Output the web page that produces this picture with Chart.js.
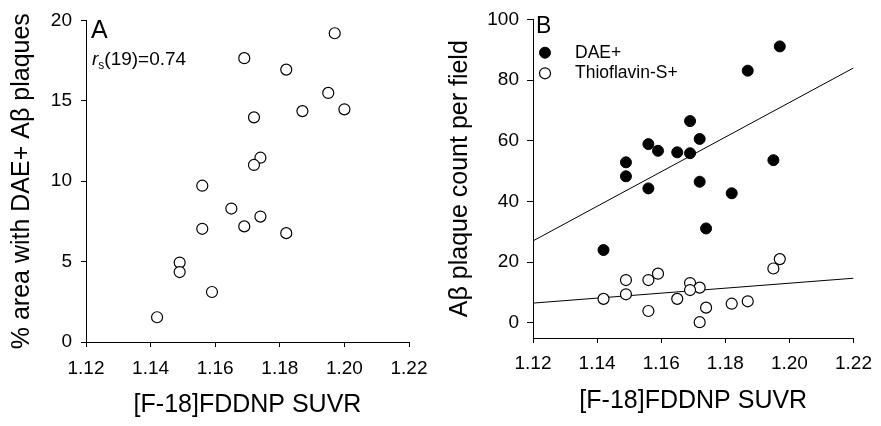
<!DOCTYPE html>
<html><head><meta charset="utf-8">
<script src="https://cdn.jsdelivr.net/npm/chart.js@4"></script>
<style>
html,body{margin:0;padding:0;background:#fff;width:881px;height:426px;overflow:hidden}
#ca{position:absolute;left:0;top:0}
#cb{position:absolute;left:440px;top:0}
</style></head><body>
<canvas id="ca" width="440" height="426"></canvas>
<canvas id="cb" width="441" height="426"></canvas>
<script>
// ---- data ----
const xTicks = [1.12, 1.14, 1.16, 1.18, 1.20, 1.22];
const yTicksA = [0, 5, 10, 15, 20];
const yTicksB = [0, 20, 40, 60, 80, 100];

const suvrA = [1.197,1.169,1.182,1.195,1.187,1.200,1.172,1.174,1.172,1.156,1.165,1.174,1.169,1.156,1.182,1.149,1.149,1.159,1.142];
const areaA = [19.2,17.65,16.94,15.49,14.36,14.47,13.97,11.46,11.01,9.72,8.30,7.80,7.19,7.04,6.77,4.94,4.35,3.11,1.54];

const suvrDAE = [1.197,1.187,1.169,1.172,1.156,1.159,1.165,1.169,1.149,1.195,1.149,1.172,1.156,1.182,1.174,1.142];
const countDAE = [91.1,83.1,66.5,60.6,58.9,56.7,56.2,55.9,52.9,53.6,48.3,46.5,44.3,42.7,31.1,24.0];

const suvrThio = [1.197,1.195,1.159,1.149,1.156,1.169,1.172,1.169,1.149,1.142,1.165,1.182,1.187,1.174,1.156,1.172];
const countThio = [21.0,17.9,16.2,14.1,14.1,13.1,11.6,10.8,9.4,7.9,7.9,6.3,7.1,5.0,3.9,0.2];

const fitX = [1.12, 1.22];
const fitDAE = [27.0, 84.0];
const fitThio = [6.5, 14.7];

const seriesNames = ['DAE+', 'Thioflavin-S+'];
const xTitle = '[F-18]FDDNP SUVR';
const yTitleA = '% area with DAE+ A\u03B2 plaques';
const yTitleB = 'A\u03B2 plaque count per field';

// ---- styling ----
const FONT = "'Liberation Sans', Arial, sans-serif";
const pts = (xs, ys) => xs.map((x, i) => ({x: x, y: ys[i]}));

function xScale(h, pad, titlePadBottom) {
  return {
    type: 'linear', min: 1.12, max: 1.22,
    afterBuildTicks: s => { s.ticks = xTicks.map(v => ({value: v})); },
    afterFit: s => { s.height = h; },
    grid: {display: true, drawOnChartArea: false, drawTicks: true, tickLength: 5, color: '#000', lineWidth: 1},
    border: {display: true, color: '#000', width: 1},
    ticks: {color: '#000', font: {family: FONT, size: 19}, padding: pad, maxRotation: 0, autoSkip: false,
            callback: v => Number(v).toFixed(2)},
    title: {display: true, text: xTitle, color: '#000', font: {family: FONT, size: 25}, padding: {top: 0, bottom: titlePadBottom}}
  };
}
function yScale(min, max, tickArr, w, tl, pad, title, tsize, tpad) {
  return {
    type: 'linear', min: min, max: max,
    afterBuildTicks: s => { s.ticks = tickArr.map(v => ({value: v})); },
    afterFit: s => { s.width = w; },
    grid: {display: true, drawOnChartArea: false, drawTicks: true, tickLength: tl, color: '#000', lineWidth: 1},
    border: {display: true, color: '#000', width: 1},
    ticks: {color: '#000', font: {family: FONT, size: 19}, padding: pad, autoSkip: false},
    title: {display: true, text: title, color: '#000', font: {family: FONT, size: tsize}, padding: {top: tpad, bottom: 0}}
  };
}

const common = {
  responsive: false, animation: false, events: [],
  plugins: {legend: {display: false}, tooltip: {enabled: false}}
};

// Panel A
new Chart(document.getElementById('ca'), {
  type: 'scatter',
  data: {datasets: [{
    data: pts(suvrA, areaA),
    pointRadius: 5.5, pointBackgroundColor: '#fff', pointBorderColor: '#000', pointBorderWidth: 1.2
  }]},
  options: Object.assign({}, common, {
    layout: {padding: {top: 17, right: 31, left: 0, bottom: 0}},
    scales: {
      x: xScale(84, 10, 6),
      y: yScale(0, 20, yTicksA, 86, 5, 9, yTitleA, 25, 7)
    }
  }),
  plugins: [{
    id: 'labelsA',
    afterDraw(chart) {
      const c = chart.ctx;
      c.save();
      c.fillStyle = '#000';
      c.textBaseline = 'alphabetic';
      c.textAlign = 'left';
      c.font = '25px ' + FONT;
      c.fillText('A', 91, 38);
      c.font = 'italic 19px ' + FONT;
      c.fillText('r', 92, 65);
      let x = 92 + c.measureText('r').width;
      c.font = '12px ' + FONT;
      c.fillText('s', x, 69);
      x += c.measureText('s').width;
      c.font = '19px ' + FONT;
      c.fillText('(19)=0.74', x, 65);
      c.restore();
    }
  }]
});

// Panel B
new Chart(document.getElementById('cb'), {
  type: 'scatter',
  data: {datasets: [
    {data: pts(fitX, fitDAE), showLine: true, pointRadius: 0, borderColor: '#000', borderWidth: 1, order: 3},
    {data: pts(fitX, fitThio), showLine: true, pointRadius: 0, borderColor: '#000', borderWidth: 1, order: 4},
    {label: seriesNames[0], data: pts(suvrDAE, countDAE), pointRadius: 5.5,
     pointBackgroundColor: '#000', pointBorderColor: '#000', pointBorderWidth: 1, order: 1},
    {label: seriesNames[1], data: pts(suvrThio, countThio), pointRadius: 5.5,
     pointBackgroundColor: '#fff', pointBorderColor: '#000', pointBorderWidth: 1.2, order: 2}
  ]},
  options: Object.assign({}, common, {
    layout: {padding: {top: 14, right: 24, left: 0, bottom: 0}},
    scales: {
      x: xScale(88, 9, 10),
      y: yScale(-5, 100, yTicksB, 93, 6, 8, yTitleB, 25, 5)
    }
  }),
  plugins: [{
    id: 'labelsB',
    afterDraw(chart) {
      const c = chart.ctx;
      c.save();
      c.fillStyle = '#000';
      c.strokeStyle = '#000';
      c.textAlign = 'left';
      c.textBaseline = 'alphabetic';
      c.font = '23px ' + FONT;
      c.fillText('B', 96, 33);
      const ds = chart.data.datasets;
      const rows = [[2, 52.7], [3, 73.3]];
      c.textBaseline = 'middle';
      c.font = '17.5px ' + FONT;
      rows.forEach(([i, y]) => {
        c.beginPath();
        c.arc(105, y, 5.5, 0, Math.PI * 2);
        c.fillStyle = ds[i].pointBackgroundColor;
        c.fill();
        c.lineWidth = ds[i].pointBorderWidth;
        c.stroke();
        c.fillStyle = '#000';
        c.fillText(ds[i].label, 135, y);
      });
      c.restore();
    }
  }]
});
</script>
</body></html>
